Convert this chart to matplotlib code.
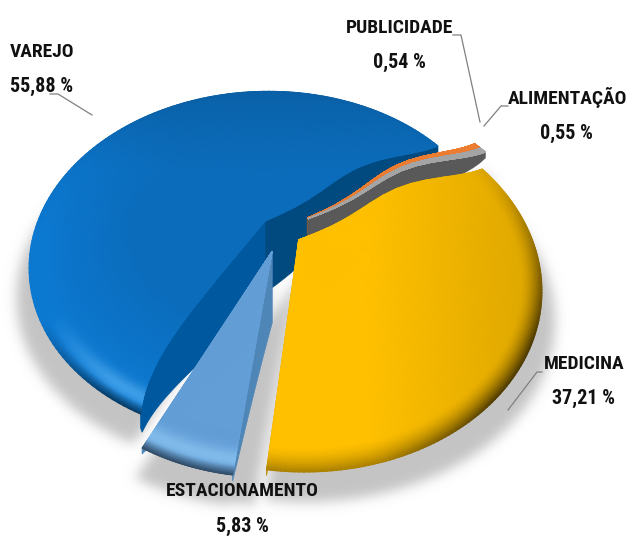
import numpy as np
import matplotlib
matplotlib.use('Agg')
import matplotlib.pyplot as plt
from matplotlib.path import Path

# Chart data
sliceNames = ['VAREJO', 'ESTACIONAMENTO', 'MEDICINA', 'ALIMENTAÇÃO', 'PUBLICIDADE']
sliceValues = [55.88, 5.83, 37.21, 0.55, 0.54]
sliceLabels = ['55,88 %', '5,83 %', '37,21 %', '0,55 %', '0,54 %']

# Styles for each slice
sliceColors = ['#0b6cbb', '#649ed7', '#ffc000', '#a5a5a5', '#ed7d31']
wallColors = ['#004a80', '#4f86b8', '#bf9000', '#595959', '#b85f20']
sliceExplode = [0.10, 0.12, 0.085, 0.14, 0.14]
sliceRadius = [1.0, 0.95, 1.0, 1.0, 1.0]
shadowShiftX = [0.0, 24.0, 0.0, 0.0, 0.0]
drawOrder = [0, 4, 3, 2, 1]

startAngle = 38.0
centerX, centerY = 282.0, 232.0
radiusX, radiusY = 231.0, 168.0
perspectiveY = 0.256
wallDepth = 66.0


def projectPoint(x, y):
    scale = 1.0 / (1.0 + perspectiveY * y)
    return centerX + radiusX * x * scale, centerY - radiusY * y * scale


def warpAngle(angle, radial, index):
    # The picture's 3D view stretches the angles, back edges also bow a little
    warped = angle + 7.0 * np.sin(np.radians(angle - 105.0))
    backEdge = np.exp(-((((angle - 36.0 + 180.0) % 360.0 - 180.0) / 30.0) ** 2))
    warped = warped + 8.0 * backEdge * np.sin(np.pi * radial) ** 2
    if index == 0:
        # cut edge of the big slice curves towards the left
        frontEdge = np.exp(-(((angle - 239.0) / 35.0) ** 2))
        warped = warped + frontEdge * (2.0 - 6.0 * (1.0 - radial ** 5))
    return warped


def sliceAngles():
    spans = np.array(sliceValues) / np.sum(sliceValues) * 360.0
    starts = startAngle + np.concatenate([[0.0], np.cumsum(spans)[:-1]])
    return starts, starts + spans


def shadeSlice(index, radial, angle, u, v):
    # Rim of the bevel: darkening on the outer edge, brighter band before it
    base = np.array(matplotlib.colors.to_rgb(sliceColors[index]))
    if index == 2:
        edge = np.clip((radial - 0.92) / 0.08, 0, 1)
        strength = np.clip((angle - 255.0) / 60.0, 0.5, 1.0) * np.clip((395.0 - angle) / 60.0, 0.1, 1.0)
        factor = 1.0 - 0.66 * (edge ** 1.6) * strength
        sideShade = 1.0 - 0.13 * np.clip((u - 370.0) / 165.0, 0, 1)
        return np.clip(base * (factor * sideShade)[..., None], 0, 1)
    if index in (0, 1):
        low = np.clip((angle - 205.0) / 25.0, 0, 1)
        band = np.exp(-((radial - 0.945) / 0.035) ** 2) * (low if index == 0 else 0.9)
        dark = np.clip((radial - 0.965) / 0.035, 0, 1) * (0.02 + 0.5 * low)
        rgb = base + (np.array([0.62, 0.85, 1.0]) - base) * 0.55 * band[..., None]
        if index == 0:
            # lighter towards the lower left, a bit darker at the back
            side = np.clip((radial - 0.55) / 0.45, 0, 1) * np.clip((angle - 120.0) / 60.0, 0, 1)
            rgb = rgb + (np.array([0.05, 0.55, 0.95]) - rgb) * 0.45 * side[..., None]
            rgb = rgb * (1.0 - 0.10 * np.clip((170.0 - v) / 80.0, 0, 1))[..., None]
        return np.clip(rgb * (1.0 - dark[..., None]), 0, 1)
    return np.broadcast_to(base, radial.shape + (3,))


def sliceOutline(index, starts, ends, nArc=80):
    mid = np.radians((starts[index] + ends[index]) / 2.0)
    offX, offY = sliceExplode[index] * np.cos(mid), sliceExplode[index] * np.sin(mid)
    theta = np.radians(warpAngle(np.linspace(starts[index], ends[index], nArc), 1.0, index))
    xs = np.concatenate([[offX], offX + sliceRadius[index] * np.cos(theta)])
    ys = np.concatenate([[offY], offY + sliceRadius[index] * np.sin(theta)])
    return projectPoint(xs, ys)


fig = plt.figure(figsize=(6.27, 5.36), dpi=100)
ax = fig.add_axes([0, 0, 1, 1])
ax.set_xlim(0, 627)
ax.set_ylim(536, 0)
ax.axis('off')

starts, ends = sliceAngles()

# Soft shadow under the pie: rasterised outlines, blurred in frequency space
gridX, gridY = np.meshgrid(np.arange(627) + 0.5, np.arange(536) + 0.5)
gridPoints = np.column_stack([gridX.ravel(), gridY.ravel()])
shadowMask = np.zeros(gridX.shape)
for i in range(len(sliceValues)):
    u, v = sliceOutline(i, starts, ends)
    for shiftX in (0.0, shadowShiftX[i]):
        shadowU = centerX + (u - centerX) * 1.05 + shiftX
        inside = Path(np.column_stack([shadowU, v + 30.0])).contains_points(gridPoints)
        shadowMask = np.maximum(shadowMask, inside.reshape(gridX.shape).astype(float))
padSize = 40
paddedMask = np.pad(shadowMask, padSize)
fx = np.fft.fftfreq(paddedMask.shape[1])[None, :]
fy = np.fft.fftfreq(paddedMask.shape[0])[:, None]
blurred = np.fft.ifft2(np.fft.fft2(paddedMask) * np.exp(-2 * (np.pi * 6.0) ** 2 * (fx ** 2 + fy ** 2))).real
shadowImage = np.ones(gridX.shape + (4,))
shadowImage[..., :3] = 0.77
shadowImage[..., 3] = np.clip(blurred[padSize:-padSize, padSize:-padSize], 0, 1)
ax.imshow(shadowImage, extent=(0, 627, 536, 0), aspect='auto', zorder=0)
ax.set_xlim(0, 627)
ax.set_ylim(536, 0)

# Slices from back to front: cut walls first, then the top surface
zValue = 1
for i in drawOrder:
    mid = np.radians((starts[i] + ends[i]) / 2.0)
    offX, offY = sliceExplode[i] * np.cos(mid), sliceExplode[i] * np.sin(mid)

    for edgeAngle in (starts[i], ends[i]):
        t = np.linspace(0, 1, 30)
        edgeTheta = np.radians(warpAngle(np.full_like(t, edgeAngle), t, i))
        edgeRadius = t * sliceRadius[i]
        u, v = projectPoint(offX + edgeRadius * np.cos(edgeTheta), offY + edgeRadius * np.sin(edgeTheta))
        drop = wallDepth * (1 - t) ** 0.9 + 6.0
        color = wallColors[i]
        if i == 0 and edgeAngle == ends[i]:
            color = '#00589f'
            drop = wallDepth * (1 - t) ** 0.45 + 14.0
        ax.fill(np.concatenate([u, u[::-1]]), np.concatenate([v, (v + drop)[::-1]]),
                color=color, lw=0.5, zorder=zValue)
    zValue += 1

    radialGrid = np.concatenate([np.linspace(0, 0.88, 12), np.linspace(0.89, 1.0, 24)])
    angleGrid = np.linspace(starts[i], ends[i], 140)
    radial, angle = np.meshgrid(radialGrid, angleGrid)
    theta = np.radians(warpAngle(angle, radial, i))
    meshRadius = radial * sliceRadius[i]
    u, v = projectPoint(offX + meshRadius * np.cos(theta), offY + meshRadius * np.sin(theta))
    ax.pcolormesh(u, v, shadeSlice(i, radial, angle, u, v), shading='gouraud', zorder=zValue)
    zValue += 1

# Labels with their leader lines
labelFont = ['Roboto Condensed', 'Open Sans Condensed', 'Lato']
labelX = [10, 242, 584, 567, 400]
labelY = [52, 491, 364, 98, 28]
valueY = [86, 526, 398, 133, 62]
valueX = [10, 242, 584, 566, 399]
labelAlign = ['left', 'center', 'center', 'center', 'center']
leaderX = [[50, 58, 92], None, [542, 537, 508], [508, 501, 484], [453, 461, 480]]
leaderY = [[94, 94, 115], None, [372, 372, 410], [106, 106, 126], [35, 35, 122]]

for i in range(len(sliceNames)):
    ax.text(labelX[i], labelY[i], sliceNames[i], ha=labelAlign[i], va='center', fontsize=14,
            fontweight='bold', family=labelFont, color='#111111', zorder=50)
    ax.text(valueX[i], valueY[i], sliceLabels[i], ha=labelAlign[i], va='center', fontsize=14.5,
            fontweight='bold', family=labelFont, color='#111111', zorder=50)
    if leaderX[i] is not None:
        ax.plot(leaderX[i], leaderY[i], color='#808080', lw=0.9, zorder=49)

fig.savefig('out.png', dpi=100)
